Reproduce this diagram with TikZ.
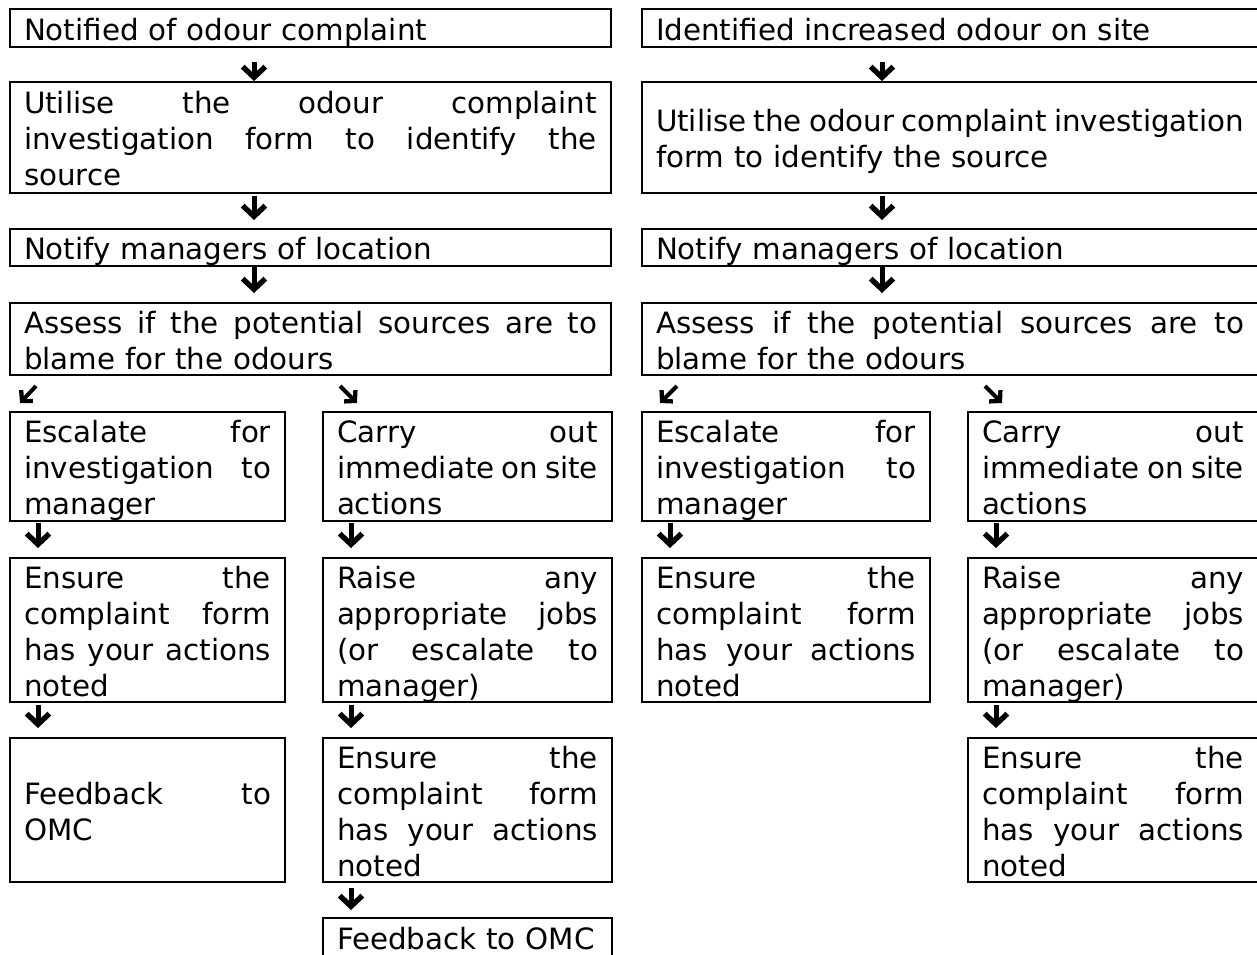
\documentclass[tikz,border=0pt]{standalone}
\usepackage{fontspec}
\setmainfont{DejaVu Sans}
\usetikzlibrary{arrows.meta}
\newcommand\J[1]{\noindent\hbox to \hsize{\spaceskip=0.318em plus 10em minus 0.12em\relax #1}}
\begin{document}
\begin{tikzpicture}[x=0.75pt,y=-0.75pt,
  box/.style={draw, line width=1.5pt, anchor=north west, inner xsep=10.5pt, inner ysep=0pt,
    outer sep=0pt, align=left, text height=18.9pt, font=\fontsize{22pt}{27pt}\selectfont},
  bigL/.style={box, text width=429.75pt},
  smLa/.style={box, text width=185.25pt},
  smLb/.style={box, text width=195.75pt},
  bigR/.style={box, text width=441pt},
  smRa/.style={box, text width=195pt},
  smRb/.style={box, text width=196.5pt},
  one/.style={text depth=0.6pt},
  two/.style={text depth=27.6pt},
  three/.style={text depth=54.6pt},
  four/.style={text depth=81.6pt},
  garrow/.style={line width=3.75pt, -{Straight Barb[length=8pt,width=17pt,line width=4pt]}},
  darrow/.style={line width=3pt, -{Straight Barb[length=5.5pt,width=12pt,line width=3.2pt]}}]
\useasboundingbox (0,0) rectangle (1257,954);

% ---------- left flow ----------
\node[bigL, one, minimum height=28.5pt] (b1) at (10,9) {Notified of odour complaint};
\node[bigL, three, minimum height=83.25pt] (b2) at (10,82)
  {\J{Utilise the odour complaint}\\\J{investigation form to identify the}\\source};
\node[bigL, one, minimum height=27.75pt] (b3) at (10,229) {Notify managers of location};
\node[bigL, two, minimum height=54pt] (b4) at (10,303)
  {\J{Assess if the potential sources are to}\\blame for the odours};
\node[smLa, three, minimum height=81.75pt] (b5a) at (10,412)
  {\J{Escalate for}\\\J{investigation to}\\manager};
\node[smLb, three, minimum height=81.75pt] (b5b) at (323,412)
  {\J{Carry out}\\\J{immediate on site}\\actions};
\node[smLa, four, minimum height=108pt] (b6a) at (10,558)
  {\J{Ensure the}\\\J{complaint form}\\\J{has your actions}\\noted};
\node[smLb, four, minimum height=108pt] (b6b) at (323,558)
  {\J{Raise any}\\\J{appropriate jobs}\\\J{(or escalate to}\\manager)};
\node[smLa, two, minimum height=108pt] (b7a) at (10,738)
  {\J{Feedback to}\\OMC};
\node[smLb, four, minimum height=108pt] (b7b) at (323,738)
  {\J{Ensure the}\\\J{complaint form}\\\J{has your actions}\\noted};
\node[smLb, one, minimum height=28.5pt] (b8) at (323,918) {Feedback to OMC};

% ---------- right flow ----------
\node[bigR, one, minimum height=28.5pt] (r1) at (642,9) {Identified increased odour on site};
\node[bigR, two, minimum height=83.25pt] (r2) at (642,82)
  {\J{Utilise the odour complaint investigation}\\form to identify the source};
\node[bigR, one, minimum height=27.75pt] (r3) at (642,229) {Notify managers of location};
\node[bigR, two, minimum height=54pt] (r4) at (642,303)
  {\J{Assess if the potential sources are to}\\blame for the odours};
\node[smRa, three, minimum height=81.75pt] (r5a) at (642,412)
  {\J{Escalate for}\\\J{investigation to}\\manager};
\node[smRb, three, minimum height=81.75pt] (r5b) at (968,412)
  {\J{Carry out}\\\J{immediate on site}\\actions};
\node[smRa, four, minimum height=108pt] (r6a) at (642,558)
  {\J{Ensure the}\\\J{complaint form}\\\J{has your actions}\\noted};
\node[smRb, four, minimum height=108pt] (r6b) at (968,558)
  {\J{Raise any}\\\J{appropriate jobs}\\\J{(or escalate to}\\manager)};
\node[smRb, four, minimum height=108pt] (r7b) at (968,738)
  {\J{Ensure the}\\\J{complaint form}\\\J{has your actions}\\noted};

% ---------- arrow columns ----------
\coordinate (xA) at (254,0);
\coordinate (xB) at (38,0);
\coordinate (xC) at (351,0);
\coordinate (xD) at (882,0);
\coordinate (xE) at (670,0);
\coordinate (xF) at (996,0);

% left arrows
\draw[garrow, shorten <=11.25pt, shorten >=0.75pt] (b1.south -| xA) -- (b2.north -| xA);
\draw[garrow, shorten <=2.25pt, shorten >=6.75pt] (b2.south -| xA) -- (b3.north -| xA);
\draw[garrow, shorten <=0.75pt, shorten >=7.5pt] (b3.south -| xA) -- (b4.north -| xA);
\draw[darrow] ([shift={(26,11)}]b4.south west) -- ([shift={(10,-9)}]b5a.north west);
\draw[darrow] ([shift={(330,11)}]b4.south west) -- ([shift={(34,-9)}]b5b.north west);
\draw[garrow, shorten <=1.5pt, shorten >=7.5pt] (b5a.south -| xB) -- (b6a.north -| xB);
\draw[garrow, shorten <=1.5pt, shorten >=7.5pt] (b5b.south -| xC) -- (b6b.north -| xC);
\draw[garrow, shorten <=2.25pt, shorten >=7.5pt] (b6a.south -| xB) -- (b7a.north -| xB);
\draw[garrow, shorten <=2.25pt, shorten >=7.5pt] (b6b.south -| xC) -- (b7b.north -| xC);
\draw[garrow, shorten <=4.5pt, shorten >=6pt] (b7b.south -| xC) -- (b8.north -| xC);

% right arrows
\draw[garrow, shorten <=11.25pt, shorten >=0.75pt] (r1.south -| xD) -- (r2.north -| xD);
\draw[garrow, shorten <=2.25pt, shorten >=6.75pt] (r2.south -| xD) -- (r3.north -| xD);
\draw[garrow, shorten <=0.75pt, shorten >=7.5pt] (r3.south -| xD) -- (r4.north -| xD);
\draw[darrow] ([shift={(35,11)}]r4.south west) -- ([shift={(18,-9)}]r5a.north west);
\draw[darrow] ([shift={(343,11)}]r4.south west) -- ([shift={(34,-9)}]r5b.north west);
\draw[garrow, shorten <=1.5pt, shorten >=7.5pt] (r5a.south -| xE) -- (r6a.north -| xE);
\draw[garrow, shorten <=1.5pt, shorten >=7.5pt] (r5b.south -| xF) -- (r6b.north -| xF);
\draw[garrow, shorten <=2.25pt, shorten >=7.5pt] (r6b.south -| xF) -- (r7b.north -| xF);
\end{tikzpicture}
\end{document}
